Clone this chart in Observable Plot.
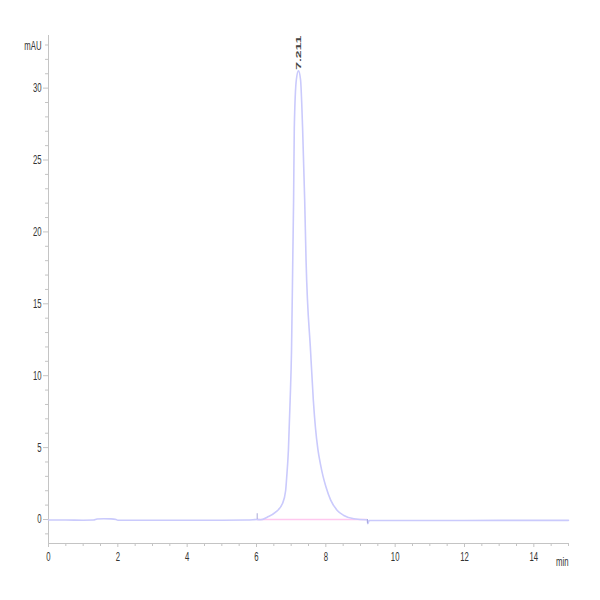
<!DOCTYPE html>
<html>
<head>
<meta charset="utf-8">
<script src="https://cdn.jsdelivr.net/npm/d3@7"></script>
<script src="https://cdn.jsdelivr.net/npm/@observablehq/plot@0.6"></script>
<style>
  html, body { margin: 0; padding: 0; background: #fff; }
</style>
</head>
<body>
<div id="chart"></div>
<script>
// Retention time (min) and detector signal (mAU)
const time = [0.0, 0.5, 1.0, 1.3, 1.4, 1.6, 1.8, 1.95, 2.0, 3.0, 4.0, 5.0, 5.7, 5.9, 6.0, 6.12, 6.31, 6.55, 6.75, 6.84, 6.87, 6.92, 6.97, 7.01, 7.05, 7.07, 7.09, 7.15, 7.211, 7.27, 7.33, 7.39, 7.43, 7.56, 7.64, 7.70, 7.77, 7.84, 7.92, 8.0, 8.14, 8.33, 8.52, 8.81, 9.15, 9.2, 9.21, 9.25, 10.0, 12.0, 14.0, 15.0];
const signal = [-0.04, -0.04, -0.05, -0.04, 0.03, 0.05, 0.04, 0.0, -0.05, -0.05, -0.05, -0.05, -0.04, -0.02, 0.0, -0.02, 0.16, 0.51, 1.11, 2.0, 2.9, 4.8, 8.27, 11.7, 18.7, 22.2, 27.2, 30.6, 31.2, 30.6, 27.2, 22.2, 18.0, 11.7, 8.27, 6.4, 4.9, 3.9, 3.0, 2.3, 1.35, 0.63, 0.28, 0.05, -0.02, -0.02, -0.3, -0.07, -0.07, -0.07, -0.06, -0.06];

// Integrated peak
const peakTime = 7.211;
const peakHeight = 31.2;
const peakLabel = "7.211";
const baselineStart = 6.02;
const baselineEnd = 9.2;

// Axis ticks
const xMajor = [0, 2, 4, 6, 8, 10, 12, 14];
const xMinor = [0.5, 1, 1.5, 2.5, 3, 3.5, 4.5, 5, 5.5, 6.5, 7, 7.5, 8.5, 9, 9.5, 10.5, 11, 11.5, 12.5, 13, 13.5, 14.5, 15];
const yMajor = [0, 5, 10, 15, 20, 25, 30];
const yMinor = [-1, 1, 2, 3, 4, 6, 7, 8, 9, 11, 12, 13, 14, 16, 17, 18, 19, 21, 22, 23, 24, 26, 27, 28, 29, 31, 32, 33];
const xDomain = [0, 15];
const yDomain = [-1.67, 33.66];

const data = time.map((t, i) => ({t, v: signal[i]}));
const axisColor = "#c4c4c4";
const textColor = "#333";

const chart = Plot.plot({
  width: 600,
  height: 600,
  marginLeft: 48,
  marginRight: 32,
  marginTop: 35,
  marginBottom: 57,
  x: {domain: xDomain, label: null},
  y: {domain: yDomain, label: null},
  style: {fontFamily: "'Liberation Sans', Arial, sans-serif", fontSize: "12.5px", background: "#fff", color: textColor},
  marks: [
    Plot.ruleX([xDomain[0]], {y1: yDomain[0], y2: yDomain[1], stroke: axisColor}),
    Plot.ruleY([yDomain[0]], {x1: xDomain[0], x2: xDomain[1], stroke: axisColor}),
    Plot.axisY({ticks: yMinor, tickSize: 3, tickFormat: () => "", label: null, stroke: axisColor}),
    Plot.axisY({ticks: yMajor, tickSize: 5, tickPadding: 2, label: null, stroke: axisColor, fill: textColor}),
    Plot.axisX({ticks: xMinor, tickSize: 3, tickFormat: () => "", label: null, stroke: axisColor}),
    Plot.axisX({ticks: xMajor, tickSize: 4, tickPadding: 5, label: null, stroke: axisColor, fill: textColor}),
    Plot.text(["mAU"], {x: xDomain[0], y: yDomain[1], text: d => d, textAnchor: "end", dx: -7, dy: 10, fill: textColor}),
    Plot.text(["min"], {x: xDomain[1], y: yDomain[0], text: d => d, textAnchor: "end", dy: 18, fill: textColor}),
    Plot.ruleY([0], {x1: baselineStart, x2: baselineEnd, stroke: "#ffc8ee", strokeWidth: 1.5}),
    Plot.line(data, {x: "t", y: "v", stroke: "#cacafc", strokeWidth: 1.6, curve: "monotone-x"}),
    Plot.ruleX([baselineStart], {y1: 0, y2: 0.4, stroke: "#a9a9d9"}),
    Plot.ruleX([baselineEnd], {y1: -0.3, y2: 0, stroke: "#a9a9d9"}),
    Plot.text([peakLabel], {x: () => peakTime, y: () => peakHeight, text: d => d, rotate: -90, textAnchor: "start", dy: -1, fontSize: 14, fontWeight: "bold", fill: "#444"})
  ]
});

// The reference text looks horizontally compressed; mimic that.
chart.querySelectorAll("text").forEach(t => {
  const tr = t.getAttribute("transform");
  if (tr) {
    t.setAttribute("transform", tr + (tr.includes("rotate") ? " scale(1,0.55)" : " scale(0.62,1)"));
  } else {
    const x = t.getAttribute("x") || 0, y = t.getAttribute("y") || 0;
    t.removeAttribute("x"); t.removeAttribute("y");
    t.setAttribute("transform", `translate(${x},${y}) scale(0.62,1)`);
  }
});

document.getElementById("chart").appendChild(chart);
</script>
</body>
</html>
